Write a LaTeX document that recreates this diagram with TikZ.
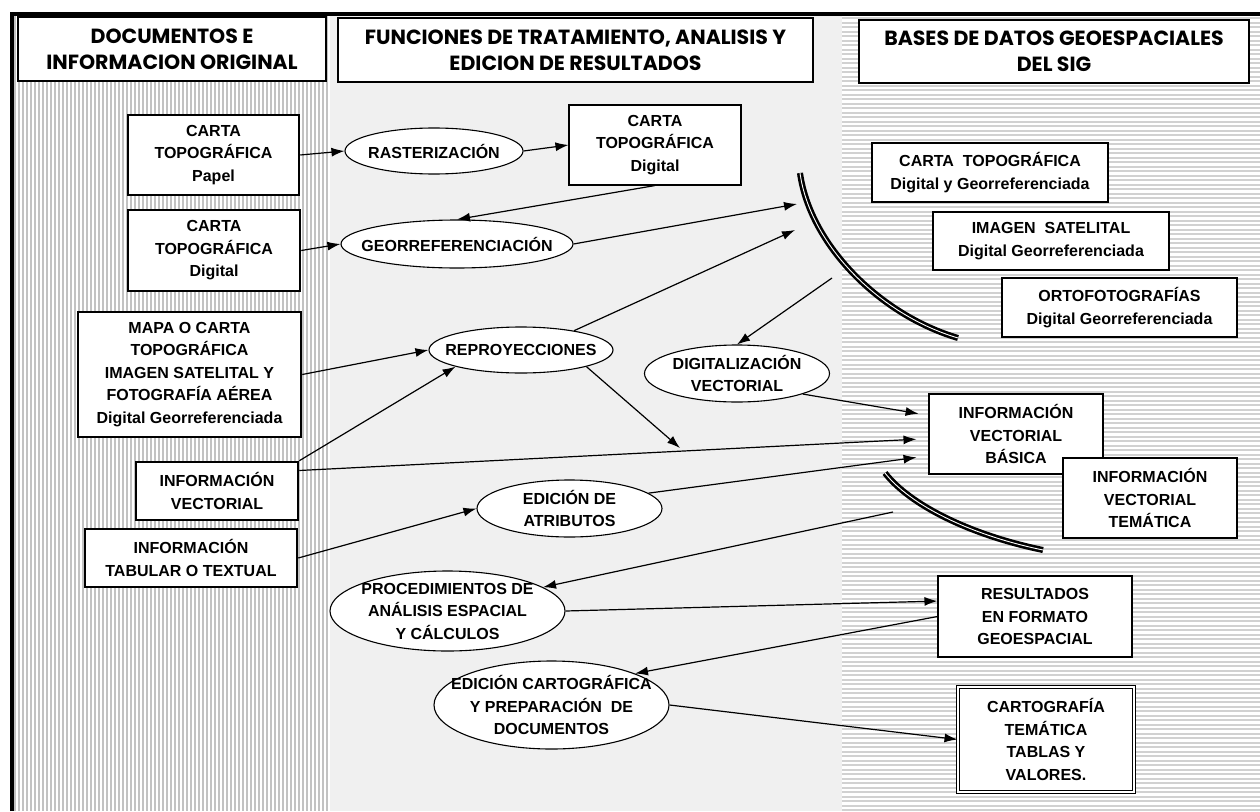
\documentclass[tikz,border=0pt]{standalone}
\usepackage{fontspec}
\setmainfont{Liberation Sans}
\newfontfamily\hdrfont{Poppins}
\usetikzlibrary{shapes.geometric,arrows.meta,calc}
\begin{document}
\begin{tikzpicture}[x=1pt,y=-1pt,
  body/.style={font=\fontsize{16}{22.5}\selectfont\bfseries, align=center},
  hdr/.style={font=\hdrfont\fontsize{20.5}{26}\selectfont\bfseries, align=center, draw, fill=white, inner sep=0},
  lbox/.style={body, draw, line width=2.5pt, fill=white, inner sep=0},
  tbox/.style={body, draw, line width=1.1pt, fill=white, inner sep=0},
  ell/.style={ellipse, draw, line width=1.1pt, fill=white, inner sep=0},
  arr/.style={-{Latex[length=13pt,width=9pt]}, line width=1.2pt},
  dcurve/.style={line width=2.6pt, double=white, double distance=0.9pt}]
\useasboundingbox (0,0) rectangle (1260,811);
% backgrounds
\fill[white] (0,0) rectangle (1260,811);
\fill[black!6] (330,16) rectangle (842,811);
\foreach \x in {15,19,...,327} \draw[black!24, line width=2pt] (\x,16) -- (\x,811);
\foreach \y in {18,22.5,...,810} \draw[black!18, line width=2pt] (842,\y) -- (1260,\y);
\draw[line width=4pt] (12,811) -- (12,14) -- (1260,14);
% headers
\node[hdr, line width=2.5pt, minimum width=308pt, minimum height=64pt] (h1) at (172,49) {DOCUMENTOS E\\INFORMACION ORIGINAL};
\node[hdr, line width=1.1pt, minimum width=475pt, minimum height=64pt] (h2) at (575.5,50) {FUNCIONES DE TRATAMIENTO, ANALISIS Y\\EDICION DE RESULTADOS};
\node[hdr, line width=1.1pt, minimum width=390pt, minimum height=63pt] (h3) at (1054,51.5) {BASES DE DATOS GEOESPACIALES\\DEL SIG};
% left column
\node[lbox, minimum width=171pt, minimum height=80pt] (p1) at (213.5,155) {CARTA\\TOPOGRÁFICA\\Papel};
\node[lbox, minimum width=172pt, minimum height=81pt] (p2) at (214,250.5) {CARTA\\TOPOGRÁFICA\\Digital};
\node[lbox, minimum width=223pt, minimum height=125pt] (mapa) at (189.5,374.5) {MAPA O CARTA\\TOPOGRÁFICA\\IMAGEN SATELITAL Y\\FOTOGRAFÍA AÉREA\\Digital Georreferenciada};
\node[lbox, minimum width=162pt, minimum height=58pt] (iv) at (217,491) {INFORMACIÓN\\VECTORIAL};
\node[lbox, minimum width=212pt, minimum height=58pt] (tab) at (191,558) {INFORMACIÓN\\TABULAR O TEXTUAL};
% middle column
\node[ell, minimum width=178pt, minimum height=46pt, label={[body]center:RASTERIZACIÓN}] (ras) at (434,151) {};
\node[tbox, minimum width=172pt, minimum height=80pt] (cd) at (655,145) {CARTA\\TOPOGRÁFICA\\Digital};
\node[ell, minimum width=232pt, minimum height=48pt, label={[body]center:GEORREFERENCIACIÓN}] (geo) at (457,244) {};
\node[ell, minimum width=184pt, minimum height=46pt, label={[body]center:REPROYECCIONES}] (rep) at (521,350) {};
\node[ell, minimum width=185pt, minimum height=57pt, label={[body]center:{DIGITALIZACIÓN\\VECTORIAL}}] (dig) at (737,373.5) {};
\node[ell, minimum width=185pt, minimum height=57pt, label={[body]center:{EDICIÓN DE\\ATRIBUTOS}}] (eda) at (569.5,508.5) {};
\node[ell, minimum width=235pt, minimum height=80pt, label={[body]center:{PROCEDIMIENTOS DE\\ANÁLISIS ESPACIAL\\Y CÁLCULOS}}] (proc) at (447.5,611) {};
\node[ell, minimum width=235pt, minimum height=88pt, label={[body]center:{EDICIÓN CARTOGRÁFICA\\Y PREPARACIÓN\ \ DE\\DOCUMENTOS}}] (edc) at (551.5,705) {};
% right column
\node[tbox, minimum width=236pt, minimum height=59pt] (rc) at (990,172.5) {CARTA\ \ TOPOGRÁFICA\\Digital y Georreferenciada};
\node[tbox, minimum width=236pt, minimum height=58pt] (ri) at (1051,241) {IMAGEN\ \ SATELITAL\\Digital Georreferenciada};
\node[tbox, minimum width=235pt, minimum height=59pt] (ro) at (1119.5,307.5) {ORTOFOTOGRAFÍAS\\Digital Georreferenciada};
\node[tbox, minimum width=174pt, minimum height=80pt] (ivb) at (1016,434) {INFORMACIÓN\\VECTORIAL\\BÁSICA};
\node[tbox, minimum width=174pt, minimum height=80pt] (ivt) at (1150,498) {INFORMACIÓN\\VECTORIAL\\TEMÁTICA};
\node[tbox, minimum width=194pt, minimum height=81pt] (res) at (1035,616.5) {RESULTADOS\\EN FORMATO\\GEOESPACIAL};
\node[tbox, double, double distance=2.2pt, line width=1pt, minimum width=176pt, minimum height=105pt] (ct) at (1046,739.5) {CARTOGRAFÍA\\TEMÁTICA\\TABLAS Y\\VALORES.};
% curves
\draw[dcurve] (800,173) .. controls (810,245) and (880,315) .. (958,338);
\draw[dcurve] (885,473) .. controls (910,505) and (970,535) .. (1043,550);
\coordinate (ca) at (797,204);
\coordinate (cb) at (795,230);
\coordinate (cc) at (832,278);
\coordinate (cd2) at (893,512);
\coordinate (j1) at (680,448);
% connectors
\draw[arr] (p1.east) -- (ras.west);
\draw[arr] (ras.east) -- (cd.west);
\draw[arr] (cd.south) -- (geo.north);
\draw[arr] (p2.east) -- (geo.west);
\draw[arr] (geo.east) -- (ca);
\draw[arr] (rep.20) -- (cb);
\draw[arr] (cc) -- (dig.north);
\draw[arr] (mapa.east) -- (rep.west);
\draw[arr] (iv.north east) -- (rep.south west);
\draw[arr, shorten >=12pt] (iv.14) -- (ivb.183);
\draw[arr] (rep.south east) -- (j1);
\draw[arr, shorten >=10pt] (dig.south east) -- (ivb.168);
\draw[arr] (tab.east) -- (eda.west);
\draw[arr, shorten >=12pt] (eda.11) -- (ivb.194);
\draw[arr] (cd2) -- (proc.14);
\draw[arr] (proc.east) -- (res.171);
\draw[arr] (res.west) -- (edc.north east);
\draw[arr] (edc.east) -- (ct.west);
\end{tikzpicture}
\end{document}
